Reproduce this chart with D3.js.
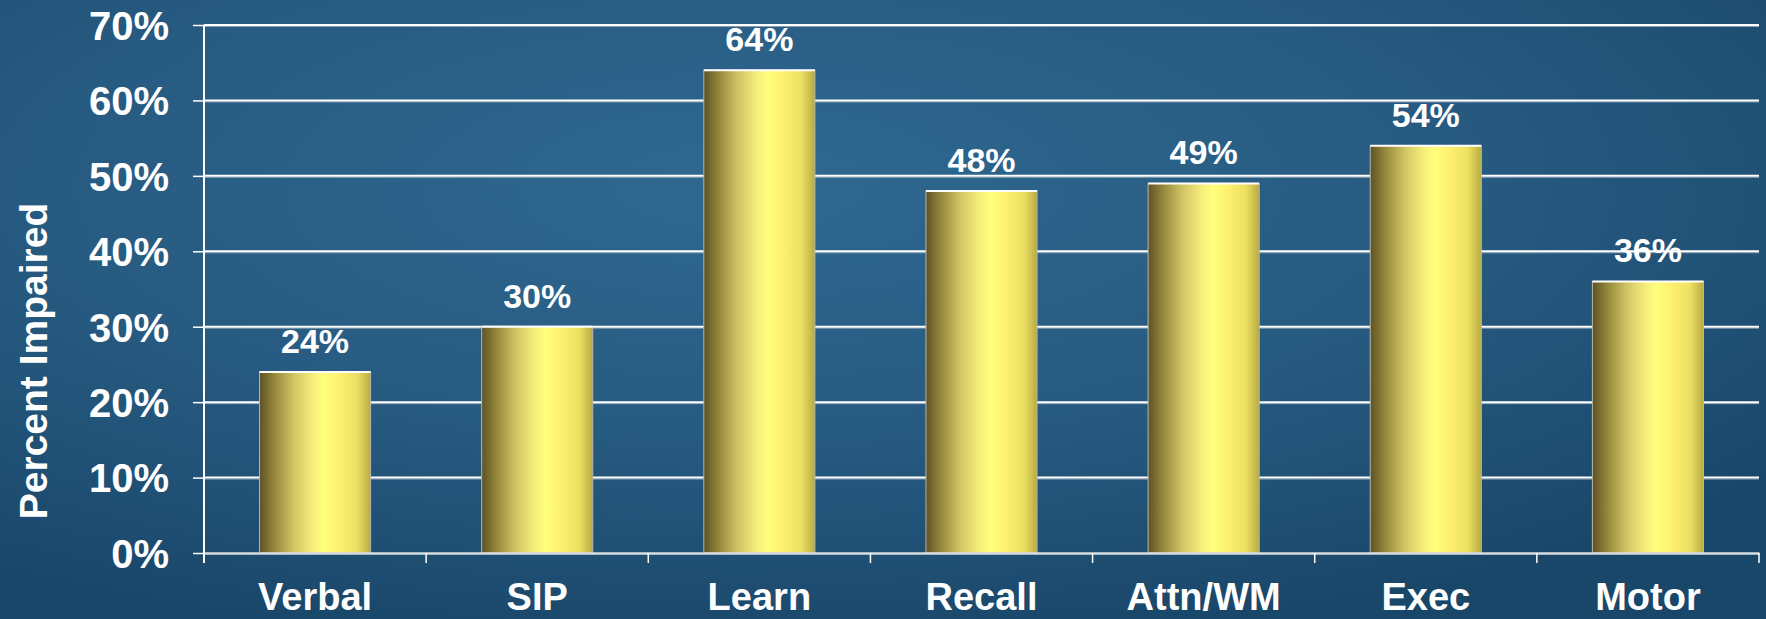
<!DOCTYPE html>
<html>
<head>
<meta charset="utf-8">
<script src="https://cdn.jsdelivr.net/npm/d3@7"></script>
<style>
  html, body { margin: 0; padding: 0; background: #1c4b6d; }
  svg { display: block; }
  text { font-family: "Liberation Sans", Arial, sans-serif; font-weight: bold; fill: #ffffff; }
</style>
</head>
<body>
<svg id="chart" width="1766" height="619"></svg>
<script>
// Share of participants impaired in each cognitive domain
const categories = ["Verbal", "SIP", "Learn", "Recall", "Attn/WM", "Exec", "Motor"];
const values = [24, 30, 64, 48, 49, 54, 36];
const valueLabels = ["24%", "30%", "64%", "48%", "49%", "54%", "36%"];
const yTicks = [0, 10, 20, 30, 40, 50, 60, 70];
const yTickLabels = ["0%", "10%", "20%", "30%", "40%", "50%", "60%", "70%"];
const yTitle = "Percent Impaired";

const W = 1766, H = 619;
const m = { left: 204, right: 7, top: 25, bottom: 66 };

const svg = d3.select("#chart");
const defs = svg.append("defs");

// Background: deep blue, lighter towards the upper middle
const bg = defs.append("radialGradient").attr("id", "bg")
  .attr("cx", "42%").attr("cy", "30%").attr("r", "75%")
  .attr("gradientUnits", "objectBoundingBox");
bg.append("stop").attr("offset", "0%").attr("stop-color", "#2f6890");
bg.append("stop").attr("offset", "55%").attr("stop-color", "#275a80");
bg.append("stop").attr("offset", "100%").attr("stop-color", "#19476a");
svg.append("rect").attr("width", W).attr("height", H).attr("fill", "url(#bg)");

// Cylinder-like shading across each bar
const barGrad = defs.append("linearGradient").attr("id", "barGrad")
  .attr("x1", "0%").attr("x2", "100%").attr("y1", "0%").attr("y2", "0%");
[["0%", "#5e5226"], ["12%", "#8f8238"], ["30%", "#cfc262"], ["48%", "#f6ee7c"],
 ["58%", "#ffff7c"], ["72%", "#fdf070"], ["88%", "#ece062"], ["100%", "#b9aa42"]]
  .forEach(([o, c]) => barGrad.append("stop").attr("offset", o).attr("stop-color", c));

// Plot area spans y = 553 (0%) up to y = 25 (70%)
const x = d3.scaleBand().domain(categories)
  .range([m.left, W - m.right]).paddingInner(0.5).paddingOuter(0.25);
const y = d3.scaleLinear().domain([0, 70]).range([553, m.top]);

const band = d3.scaleBand().domain(categories).range([m.left, W - m.right]);

// Horizontal gridlines
const grid = svg.append("g");
grid.selectAll("line.shadow").data(yTicks.slice(1)).join("line")
  .attr("class", "shadow")
  .attr("x1", m.left).attr("x2", W - m.right)
  .attr("y1", d => y(d) + 1.5).attr("y2", d => y(d) + 1.5)
  .attr("stroke", "#8aa0b4").attr("stroke-width", 1);
grid.selectAll("line.main").data(yTicks.slice(1)).join("line")
  .attr("class", "main")
  .attr("x1", m.left).attr("x2", W - m.right)
  .attr("y1", d => y(d)).attr("y2", d => y(d))
  .attr("stroke", "#ffffff").attr("stroke-width", 2);

// Y axis
const yAxis = d3.axisLeft(y).tickValues(yTicks)
  .tickFormat((d, i) => yTickLabels[i]).tickSize(11).tickPadding(24);
const gy = svg.append("g").attr("transform", `translate(${m.left},0)`).call(yAxis);
gy.select(".domain").remove();
gy.selectAll(".tick line").attr("stroke", "#ffffff").attr("stroke-width", 1.5);
gy.selectAll(".tick text").attr("font-size", 40).attr("dy", "0.36em").attr("fill", "#ffffff");
svg.append("line").attr("x1", m.left).attr("x2", m.left)
  .attr("y1", y(70)).attr("y2", 563)
  .attr("stroke", "#ffffff").attr("stroke-width", 2);

// Bars
const bars = svg.append("g");
bars.selectAll("rect").data(values).join("rect")
  .attr("x", (d, i) => x(categories[i]))
  .attr("width", x.bandwidth())
  .attr("y", d => y(d))
  .attr("height", d => y(0) - y(d))
  .attr("fill", "url(#barGrad)")
  .attr("stroke", "#b8b8a8").attr("stroke-width", 1);
bars.selectAll("line").data(values).join("line")
  .attr("x1", (d, i) => x(categories[i]))
  .attr("x2", (d, i) => x(categories[i]) + x.bandwidth())
  .attr("y1", d => y(d)).attr("y2", d => y(d))
  .attr("stroke", "#ffffff").attr("stroke-width", 2);

// X axis
const xAxis = d3.axisBottom(band).tickSize(0).tickPadding(0).tickFormat("");
const gx = svg.append("g").attr("transform", `translate(0,${y(0)})`).call(xAxis);
gx.select(".domain").attr("stroke", "#d8dde2").attr("stroke-width", 2.5);
gx.selectAll(".tick").remove();
const edges = d3.range(categories.length + 1).map(i => m.left + i * band.step());
svg.append("g").selectAll("line").data(edges.slice(1)).join("line")
  .attr("x1", d => d).attr("x2", d => d)
  .attr("y1", y(0)).attr("y2", y(0) + 10)
  .attr("stroke", "#ffffff").attr("stroke-width", 1.5);

// Category labels
svg.append("g").selectAll("text").data(categories).join("text")
  .attr("x", d => band(d) + band.bandwidth() / 2)
  .attr("y", 610)
  .attr("text-anchor", "middle")
  .attr("font-size", 38)
  .text(d => d);

// Value labels
svg.append("g").selectAll("text").data(values).join("text")
  .attr("x", (d, i) => x(categories[i]) + x.bandwidth() / 2)
  .attr("y", d => y(d) - 19)
  .attr("text-anchor", "middle")
  .attr("font-size", 34)
  .text((d, i) => valueLabels[i]);

// Y axis title
svg.append("text")
  .attr("transform", "translate(47,361) rotate(-90)")
  .attr("text-anchor", "middle")
  .attr("font-size", 39)
  .text(yTitle);
</script>
</body>
</html>
